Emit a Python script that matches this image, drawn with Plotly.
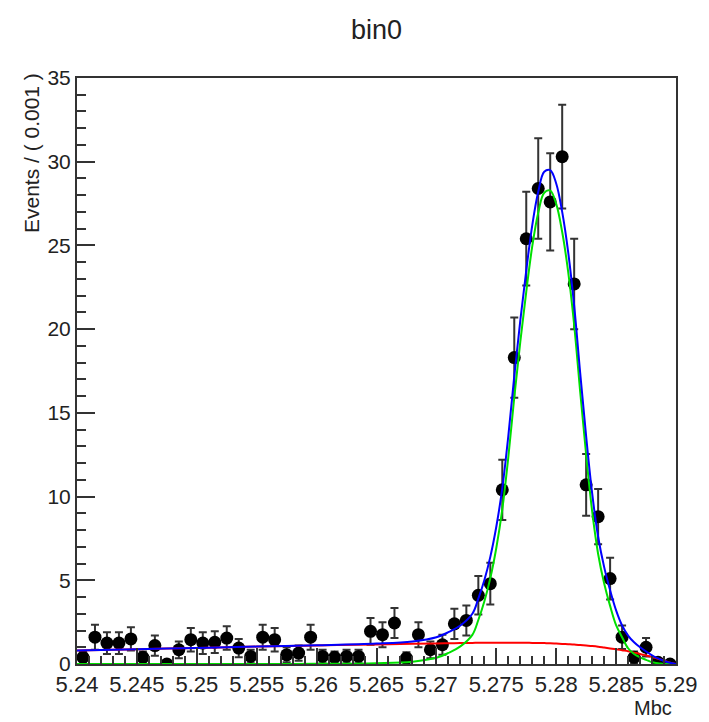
import plotly.graph_objects as go

# ---- data ----
bin_centers = [5.2405 + 0.001 * i for i in range(50)]
events = [0.4, 1.6, 1.25, 1.25, 1.5, 0.4, 1.1, 0.0, 0.85, 1.45,
          1.25, 1.3, 1.55, 0.95, 0.45, 1.6, 1.45, 0.55, 0.65, 1.6,
          0.45, 0.4, 0.45, 0.45, 1.95, 1.75, 2.45, 0.35, 1.75, 0.85,
          1.15, 2.4, 2.6, 4.1, 4.8, 10.4, 18.3, 25.4, 28.4, 27.6,
          30.3, 22.7, 10.7, 8.8, 5.1, 1.6, 0.4, 1.0, 0.1, 0.0]
errors = [0.35, 0.75, 0.65, 0.65, 0.7, 0.35, 0.6, 0.0, 0.5, 0.7,
          0.65, 0.65, 0.7, 0.55, 0.4, 0.75, 0.7, 0.45, 0.45, 0.75,
          0.4, 0.35, 0.4, 0.4, 0.8, 0.75, 0.9, 0.35, 0.75, 0.5,
          0.6, 0.9, 0.9, 1.15, 1.25, 1.8, 2.4, 2.8, 3.0, 2.9,
          3.1, 2.7, 1.85, 1.65, 1.25, 0.7, 0.35, 0.55, 0.15, 0.0]

curve_x = [5.240, 5.245, 5.250, 5.255, 5.260, 5.265, 5.268, 5.270, 5.271, 5.272,
           5.273, 5.2735, 5.274, 5.2745, 5.275, 5.2755, 5.276, 5.2765, 5.277, 5.2775,
           5.278, 5.2785, 5.279, 5.2795, 5.280, 5.2805, 5.281, 5.2815, 5.282, 5.2825,
           5.283, 5.2835, 5.284, 5.2845, 5.285, 5.2855, 5.286, 5.2865, 5.287, 5.2875,
           5.288, 5.2885, 5.289, 5.2895, 5.290]
total_fit = [0.80, 0.88, 0.96, 1.04, 1.12, 1.22, 1.35, 1.60, 1.90, 2.30,
             3.00, 3.90, 5.00, 6.40, 8.20, 10.5, 13.6, 17.2, 20.5, 23.5,
             26.2, 28.2, 29.4, 29.5, 28.7, 27.0, 24.6, 21.4, 17.4, 13.6,
             10.2, 7.6, 5.8, 4.4, 3.2, 2.3, 1.7, 1.3, 1.0, 0.75,
             0.52, 0.33, 0.18, 0.07, 0.0]
signal_fit = [0.0, 0.0, 0.0, 0.0, 0.01, 0.05, 0.14, 0.37, 0.66, 1.05,
              1.74, 2.63, 3.73, 5.13, 6.93, 9.23, 12.33, 15.93, 19.23, 22.23,
              24.94, 26.95, 28.15, 28.27, 27.48, 25.8, 23.42, 20.25, 16.27, 12.5,
              9.13, 6.57, 4.82, 3.47, 2.32, 1.6, 0.94, 0.6, 0.4, 0.25,
              0.1, 0.05, 0.0, 0.0, 0.0]
background_fit = [0.80, 0.88, 0.96, 1.04, 1.11, 1.17, 1.21, 1.23, 1.24, 1.25,
                  1.26, 1.27, 1.27, 1.27, 1.27, 1.27, 1.27, 1.27, 1.27, 1.27,
                  1.26, 1.26, 1.25, 1.24, 1.22, 1.20, 1.18, 1.16, 1.13, 1.10,
                  1.07, 1.03, 0.98, 0.93, 0.88, 0.82, 0.76, 0.68, 0.60, 0.51,
                  0.42, 0.31, 0.20, 0.08, 0.0]

x_tickvals = [5.24, 5.245, 5.25, 5.255, 5.26, 5.265, 5.27, 5.275, 5.28, 5.285, 5.29]
x_ticktext = ["5.24", "5.245", "5.25", "5.255", "5.26", "5.265", "5.27", "5.275", "5.28", "5.285", "5.29"]
y_tickvals = [0, 5, 10, 15, 20, 25, 30, 35]
y_ticktext = ["0", "5", "10", "15", "20", "25", "30", "35"]

FONT = "Liberation Sans, Arial, Helvetica, sans-serif"

fig = go.Figure()
fig.add_trace(go.Scatter(
    x=bin_centers, y=events, mode="markers",
    marker=dict(color="black", size=13),
    error_y=dict(type="data", array=errors, color="#333333", thickness=2, width=4),
    showlegend=False))
fig.add_trace(go.Scatter(x=curve_x, y=background_fit, mode="lines", line=dict(color="#ff0000", width=2, shape="spline"), showlegend=False))
fig.add_trace(go.Scatter(x=curve_x, y=signal_fit, mode="lines", line=dict(color="#00e000", width=2, shape="spline"), showlegend=False))
fig.add_trace(go.Scatter(x=curve_x, y=total_fit, mode="lines", line=dict(color="#0000ff", width=2, shape="spline"), showlegend=False))

axis_common = dict(showgrid=False, zeroline=False, showline=True, linecolor="#333333", linewidth=2,
                   mirror=True, ticks="inside", tickcolor="#333333", tickwidth=1.5,
                   layer="above traces")

fig.update_xaxes(range=[5.24, 5.29], tickvals=x_tickvals, ticktext=x_ticktext, ticklen=16,
                 tickfont=dict(family=FONT, size=22, color="#222222"),
                 minor=dict(dtick=0.001, tick0=5.24, ticklen=8, ticks="inside", tickcolor="#333333", tickwidth=1.5),
                 **axis_common)
fig.update_yaxes(range=[0, 35], tickvals=y_tickvals, ticktext=y_ticktext, ticklen=18,
                 tickfont=dict(family=FONT, size=21, color="#222222"),
                 minor=dict(dtick=1, tick0=0, ticklen=9, ticks="inside", tickcolor="#333333", tickwidth=1.5),
                 **axis_common)

fig.update_layout(
    width=709, height=722,
    margin=dict(l=77, r=25, t=78, b=58),
    paper_bgcolor="white", plot_bgcolor="white",
    annotations=[
        dict(text="bin0", xref="paper", yref="paper", x=0.5, y=1.082, xanchor="center", yanchor="middle",
             showarrow=False, font=dict(family=FONT, size=27, color="#222222")),
        dict(text="Events / ( 0.001 )", xref="paper", yref="paper", x=-0.075, y=1.012, xanchor="center", yanchor="top",
             textangle=-90, showarrow=False, font=dict(family=FONT, size=21, color="#222222")),
        dict(text="Mbc", xref="paper", yref="paper", x=0.997, y=-0.075, xanchor="right", yanchor="middle",
             showarrow=False, font=dict(family=FONT, size=20, color="#222222")),
    ],
)

fig.write_html("out.html")
